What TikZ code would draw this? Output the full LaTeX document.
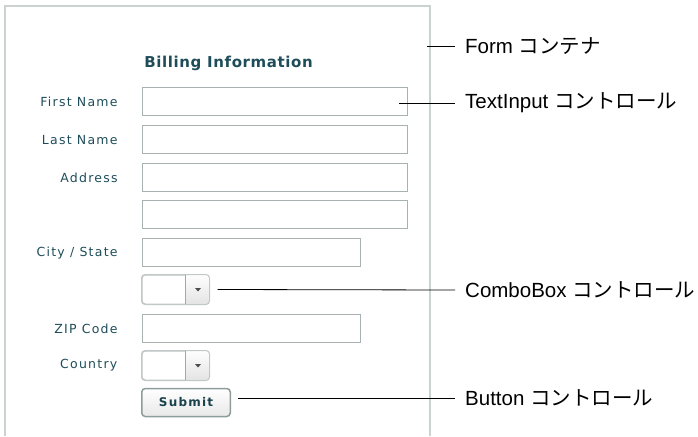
\documentclass[tikz,border=0pt]{standalone}
\usepackage{fontspec}
\setmainfont{Liberation Sans}
\newfontfamily\jpfont{Noto Sans CJK JP}
\newfontfamily\uifont[LetterSpace=10]{DejaVu Sans}
\newfontfamily\titlefont[LetterSpace=4]{DejaVu Sans}
\usetikzlibrary{positioning}

\definecolor{formteal}{HTML}{1E4D59}
\definecolor{panelgray}{HTML}{CBD2D2}
\definecolor{fieldgray}{HTML}{A8B2B2}
\definecolor{combogray}{HTML}{C2C7C7}
\definecolor{buttongray}{HTML}{8F9C9C}

\tikzset{
  field/.style={draw=fieldgray, line width=1.6pt, fill=white, inner sep=0pt,
    minimum height=28pt, anchor=north west},
  fieldlabel/.style={font=\uifont\fontsize{12.5}{14}\selectfont, text=formteal, inner sep=0pt},
  callout/.style={font=\fontsize{20.5}{24}\selectfont, anchor=west, inner xsep=10pt, inner ysep=0pt},
}

\begin{document}
\begin{tikzpicture}[x=1pt, y=-1pt]
    \useasboundingbox (0,0) rectangle (698,436);
    % form container
    \draw[panelgray, line width=1.2pt] (5,436) -- (5,6) -- (430,6) -- (430,436);
    \node[font=\titlefont\bfseries\fontsize{15}{17}\selectfont, text=formteal] (title) at (228.5,63) {Billing Information};

    % text inputs
    \node[field, minimum width=265pt] (first) at (141.8,86.8) {};
    \node[field, minimum width=265pt] (last) at (141.8,124.8) {};
    \node[field, minimum width=265pt] (address) at (141.8,162.8) {};
    \node[field, minimum width=265pt] (address2) at (141.8,199.8) {};
    \node[field, minimum width=218pt] (city) at (141.8,237.8) {};
    \node[field, minimum width=218pt] (zip) at (141.8,313.8) {};

    % combo boxes
    \foreach \name/\y in {state/274, country/350} {
      \node[draw=combogray, line width=1pt, fill=white, rounded corners=3.5pt, inner sep=0pt,
        minimum width=67pt, minimum height=29pt, anchor=north west] (\name) at (141.5,\y.5) {};
      \begin{scope}
        \clip[rounded corners=3.5pt] (\name.north west) rectangle (\name.south east);
        \shade[top color=white, bottom color=gray!22] (185,\y) rectangle (\name.south east);
      \end{scope}
      \draw[combogray, line width=1pt, rounded corners=3.5pt] (\name.north west) rectangle (\name.south east);
      \draw[gray!70, line width=0.8pt] (185,\y.5) -- (185,\y+29.5);
      \fill[black!70] (195,\y+14) -- (201,\y+14) -- (198,\y+17.5) -- cycle;
    }

    % submit button
    \node[draw=buttongray, line width=1.5pt, rounded corners=3.5pt, top color=white, bottom color=gray!18,
      minimum width=88.5pt, minimum height=28pt, inner sep=0pt, font=\uifont\bfseries\fontsize{12}{14}\selectfont,
      text=formteal!85!black] (submit) at (186,402.5) {Submit};

    % field labels
    \node[fieldlabel, left=24pt of first] (firstlbl) {First Name};
    \node[fieldlabel, left=24pt of last] (lastlbl) {Last Name};
    \node[fieldlabel, left=24pt of address] (addresslbl) {Address};
    \node[fieldlabel, left=24pt of city] (citylbl) {City / State};
    \node[fieldlabel, left=24pt of zip] (ziplbl) {ZIP Code};
    \node[fieldlabel, left=24pt of country] (countrylbl) {Country};

    % callouts
    \node[callout] (formnote) at (455,46) {Form {\jpfont コンテナ}};
    \node[callout] (textnote) at (455,103) {TextInput {\jpfont コントロール}};
    \node[callout] (combonote) at (455,290) {ComboBox {\jpfont コントロール}};
    \node[callout] (buttonnote) at (455,398) {Button {\jpfont コントロール}};
    \coordinate (formtip) at (427,46);
    \coordinate (texttip) at (399,103);
    \coordinate (combotip) at ([xshift=8pt]state.east);
    \coordinate (buttontip) at (238,398);
    \draw[line width=0.8pt] (formtip) -- (formnote.west);
    \draw[line width=0.8pt] (texttip) -- (textnote.west);
    \draw[line width=0.8pt] (combotip) -- (combonote.west);
    \draw[line width=0.8pt] (buttontip) -- (buttonnote.west);
\end{tikzpicture}
\end{document}
